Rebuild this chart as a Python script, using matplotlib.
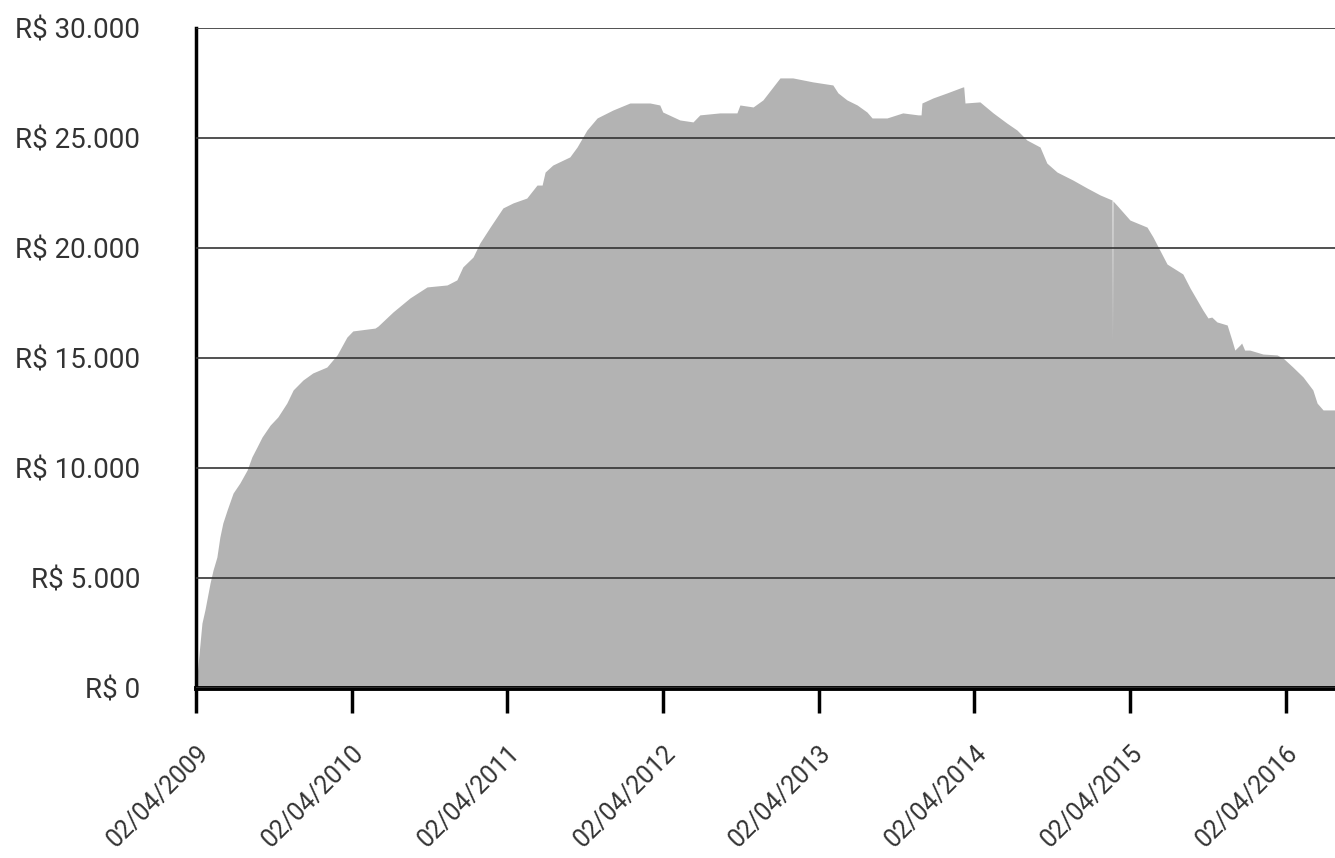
import matplotlib
matplotlib.use('Agg')
import matplotlib.pyplot as plt
import pandas as pd

# Data (date, balance in R$)
dates = [
    '2009-04-02', '2009-04-07', '2009-04-16', '2009-04-23', '2009-05-05', '2009-05-12',
    '2009-05-21', '2009-05-28', '2009-06-04', '2009-06-14', '2009-06-28', '2009-07-14',
    '2009-07-31', '2009-08-11', '2009-08-23', '2009-09-04', '2009-09-23', '2009-10-11',
    '2009-11-01', '2009-11-16', '2009-12-09', '2010-01-01', '2010-02-03', '2010-02-27',
    '2010-03-22', '2010-04-05', '2010-05-27', '2010-06-03', '2010-07-08', '2010-08-17',
    '2010-09-26', '2010-11-12', '2010-12-05', '2010-12-19', '2011-01-12', '2011-01-28',
    '2011-02-21', '2011-03-23', '2011-04-16', '2011-05-18', '2011-06-11', '2011-06-23',
    '2011-06-30', '2011-07-18', '2011-08-27', '2011-09-13', '2011-10-06', '2011-10-30',
    '2011-12-06', '2012-01-15', '2012-03-02', '2012-03-25', '2012-04-01', '2012-05-11',
    '2012-06-11', '2012-06-27', '2012-08-13', '2012-09-22', '2012-09-29', '2012-10-30',
    '2012-11-22', '2013-01-01', '2013-01-31', '2013-03-19', '2013-05-05', '2013-05-17',
    '2013-06-07', '2013-07-01', '2013-07-24', '2013-08-05', '2013-09-09', '2013-10-16',
    '2013-11-21', '2013-11-28', '2013-11-30', '2013-12-26', '2014-01-28', '2014-03-06',
    '2014-03-08', '2014-03-11', '2014-04-15', '2014-05-16', '2014-06-17', '2014-07-11',
    '2014-08-03', '2014-09-03', '2014-09-19', '2014-10-13', '2014-11-19', '2014-12-22',
    '2015-01-22', '2015-02-19', '2015-02-20', '2015-02-21', '2015-03-02', '2015-04-02',
    '2015-05-12', '2015-05-26', '2015-06-28', '2015-08-04', '2015-08-21', '2015-09-20',
    '2015-10-02', '2015-10-11', '2015-10-23', '2015-11-16', '2015-11-27', '2015-12-04',
    '2015-12-16', '2015-12-20', '2015-12-27', '2016-01-08', '2016-02-08', '2016-03-12',
    '2016-03-26', '2016-04-18', '2016-05-12', '2016-06-04', '2016-06-14', '2016-06-28',
    '2016-07-26',
]
values = [
    0, 1100, 2950, 3550, 4770, 5360,
    5950, 6860, 7500, 8090, 8860, 9320,
    9910, 10500, 10950, 11410, 11950, 12320,
    12950, 13550, 14000, 14320, 14590, 15140,
    15950, 16230, 16360, 16450, 17090, 17730,
    18230, 18320, 18550, 19140, 19590, 20230,
    20950, 21820, 22050, 22270, 22860, 22860,
    23450, 23770, 24140, 24590, 25360, 25910,
    26270, 26590, 26590, 26500, 26180, 25820,
    25730, 26050, 26140, 26140, 26500, 26410,
    26730, 27730, 27730, 27550, 27410, 27050,
    26730, 26500, 26180, 25910, 25910, 26140,
    26050, 26050, 26590, 26820, 27050, 27320,
    27320, 26590, 26640, 26140, 25680, 25360,
    24910, 24590, 23860, 23450, 23090, 22730,
    22410, 22180, 15800, 22140, 21950, 21270,
    20950, 20500, 19270, 18820, 18180, 17180,
    16820, 16860, 16640, 16500, 15820, 15360,
    15590, 15680, 15360, 15360, 15180, 15140,
    15000, 14590, 14140, 13550, 12950, 12640,
    12640,
]
tick_dates = ['2009-04-02', '2010-04-02', '2011-04-02', '2012-04-02',
              '2013-04-02', '2014-04-02', '2015-04-02', '2016-04-02']
y_ticks = [0, 5000, 10000, 15000, 20000, 25000, 30000]

plt.rcParams['font.family'] = ['Roboto', 'DejaVu Sans']

x = pd.to_datetime(dates)
xt = pd.to_datetime(tick_dates)

fig = plt.figure(figsize=(13.35, 8.58), dpi=100)
ax = fig.add_axes([0.1468, 0.1981, 0.8532, 0.7693])

ax.fill_between(x, values, 0, color='#b3b3b3', linewidth=0, zorder=1)

ax.set_xlim(x[0], x[-1])
ax.set_ylim(0, 30000)

ax.set_yticks(y_ticks)
ax.set_yticklabels([f'R$ {v:,}'.replace(',', '.') for v in y_ticks])
ax.set_xticks(xt)
ax.set_xticklabels([d.strftime('%d/%m/%Y') for d in xt], rotation=45,
                   ha='right', va='top', rotation_mode='anchor')

ax.grid(axis='y', color='#333333', linewidth=1.2, zorder=2)
ax.set_axisbelow(False)

for s in ['top', 'right']:
    ax.spines[s].set_visible(False)
ax.spines['left'].set_linewidth(2.5)
ax.spines['bottom'].set_linewidth(3.5)

ax.tick_params(axis='y', length=0, pad=40, labelsize=20, labelcolor='#333333')
ax.tick_params(axis='x', length=18, width=2.5, pad=20, labelsize=18,
               labelcolor='#333333')

plt.savefig('out.png', dpi=100)
